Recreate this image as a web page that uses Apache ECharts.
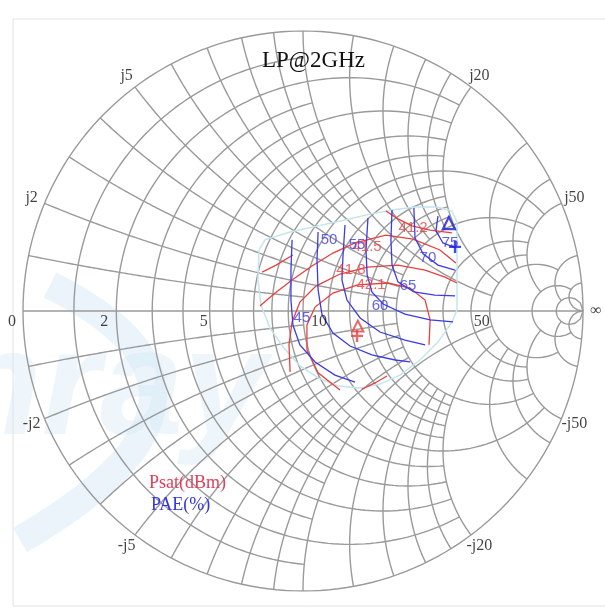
<!DOCTYPE html>
<html>
<head>
<meta charset="utf-8">
<title>LP@2GHz</title>
<script src="https://cdn.jsdelivr.net/npm/echarts@6.0.0/dist/echarts.min.js"></script>
<style>
html, body { margin: 0; padding: 0; background: #fff; }
#smith-main { width: 605px; height: 614px; }
</style>
</head>
<body>
<div id="smith-main"></div>
<script>
var smith_dom = document.getElementById("smith-main");
var smith_Chart = echarts.init(smith_dom);

var z0 = 10; // chart normalised to 10 ohm

// axis labels (ohm)
var r_labels = ["0", "2", "5", "10", "50", "∞"];
var r_label_values = [0, 2, 5, 10, 50, Infinity];
var x_label_values = [2, 5, 10, 20, 50];

// Psat contours (dBm), reflection coefficient [re, im]
var psat_levels = ["41.2", "41.5", "41.8", "42.1"];
var psat_412_a = [[0.296, 0.357], [0.339, 0.329], [0.389, 0.304], [0.454, 0.289], [0.532, 0.279]];
var psat_412_b = [[-0.146, 0.139], [-0.096, 0.164], [-0.036, 0.2]];
var psat_415 = [[-0.154, 0.018], [-0.104, 0.061], [-0.039, 0.111], [0.032, 0.161], [0.107, 0.207], [0.186, 0.243], [0.296, 0.271], [0.393, 0.257], [0.489, 0.218], [0.546, 0.171]];
var psat_418 = [[-0.046, -0.218], [-0.05, -0.121], [-0.039, -0.039], [-0.011, 0.032], [0.046, 0.089], [0.132, 0.132], [0.232, 0.157], [0.339, 0.164], [0.436, 0.146], [0.507, 0.121], [0.55, 0.1]];
var psat_421_a = [[0.132, -0.282], [0.054, -0.221], [0.014, -0.139], [0.014, -0.05], [0.043, 0.014], [0.107, 0.064], [0.196, 0.093], [0.304, 0.1], [0.382, 0.082], [0.436, 0.039], [0.454, -0.032], [0.45, -0.121]];
var psat_421_b = [[0.211, -0.279], [0.257, -0.257], [0.3, -0.232]];
var psat_label_pos = [[0.393, 0.296], [0.229, 0.229], [0.171, 0.146], [0.243, 0.093]];

// PAE contours (%)
var pae_levels = ["45", "50", "55", "60", "65", "70", "75"];
var pae_45 = [[-0.039, 0.254], [-0.043, 0.146], [-0.043, 0.039], [-0.036, -0.05], [-0.011, -0.121], [0.043, -0.182], [0.114, -0.229], [0.186, -0.254]];
var pae_50 = [[0.054, 0.282], [0.05, 0.182], [0.054, 0.075], [0.068, -0.014], [0.107, -0.079], [0.168, -0.125], [0.246, -0.157], [0.329, -0.175], [0.382, -0.182]];
var pae_55 = [[0.15, 0.307], [0.143, 0.2], [0.139, 0.111], [0.157, 0.039], [0.204, -0.025], [0.275, -0.075], [0.364, -0.104], [0.436, -0.121]];
var pae_60 = [[0.232, 0.332], [0.225, 0.218], [0.229, 0.129], [0.246, 0.068], [0.286, 0.025], [0.364, -0.011], [0.454, -0.032], [0.536, -0.039]];
var pae_65 = [[0.318, 0.361], [0.314, 0.254], [0.318, 0.164], [0.339, 0.104], [0.396, 0.068], [0.471, 0.057], [0.543, 0.054]];
var pae_70 = [[0.396, 0.368], [0.4, 0.261], [0.429, 0.204], [0.482, 0.164], [0.543, 0.146]];
var pae_75 = [[0.482, 0.339], [0.475, 0.286], [0.5, 0.243], [0.546, 0.225]];
var pae_label_pos = [[-0.004, -0.025], [0.093, 0.254], [0.193, 0.236], [0.275, 0.018], [0.375, 0.089], [0.446, 0.189], [0.525, 0.243]];

// measured load-pull area
var lp_region = [[-0.157, 0.218], [-0.136, 0.254], [-0.046, 0.282], [0.054, 0.304], [0.15, 0.325], [0.239, 0.346], [0.318, 0.361], [0.4, 0.371], [0.479, 0.371], [0.532, 0.357], [0.55, 0.318], [0.55, 0.004], [0.532, -0.039], [0.482, -0.111], [0.418, -0.175], [0.346, -0.229], [0.275, -0.261], [0.204, -0.275], [0.125, -0.268], [0.054, -0.239], [-0.011, -0.196], [-0.068, -0.132], [-0.118, -0.061], [-0.15, 0.021], [-0.161, 0.111], [-0.157, 0.218]];

// optimum points
var psat_max = [0.196, -0.054];
var psat_opt = [0.193, -0.089];
var pae_max = [0.521, 0.314];
var pae_opt = [0.543, 0.229];

// smith grid: [normalised value, limit of the other coordinate]
var r_grid = [[0, Infinity], [0.1, 1], [0.2, 2], [0.3, 1], [0.4, 2], [0.5, 1], [0.6, 2], [0.7, 1], [0.8, 2], [0.9, 1], [1, 5],
    [1.2, 2], [1.4, 2], [1.6, 2], [1.8, 2], [2, 5], [3, 5], [4, 5], [5, 10], [10, 20], [20, Infinity]];
var x_grid = [[0.1, 1], [0.2, 2], [0.3, 1], [0.4, 2], [0.5, 1], [0.6, 2], [0.7, 1], [0.8, 2], [0.9, 1], [1, 5],
    [1.2, 2], [1.4, 2], [1.6, 2], [1.8, 2], [2, 5], [3, 5], [4, 5], [5, 10], [10, 20], [20, Infinity]];

function gamma(r, x) {
    if (!isFinite(r) || !isFinite(x)) return [1, 0];
    var d = (r + 1) * (r + 1) + x * x;
    return [(r * r + x * x - 1) / d, 2 * x / d];
}

// resistance circle between -lim and +lim of reactance
function r_circle(r, lim) {
    var pts = [];
    var a = Math.atan(lim);
    for (var i = 0; i <= 200; i++) {
        var phi = -a + 2 * a * i / 200;
        pts.push(gamma(r, Math.tan(phi)));
    }
    return pts;
}

// reactance arc from r = 0 up to lim
function x_arc(x, lim) {
    var pts = [];
    var a = Math.atan(lim);
    for (var i = 0; i <= 150; i++) {
        pts.push(gamma(Math.tan(a * i / 150), x));
    }
    return pts;
}

var grid_data = [];
r_grid.forEach(function (g) {
    grid_data.push({coords: r_circle(g[0], g[1])});
});
x_grid.forEach(function (g) {
    grid_data.push({coords: x_arc(g[0], g[1])});
    grid_data.push({coords: x_arc(-g[0], g[1])});
});
grid_data.push({coords: [[-1, 0], [1, 0]]});

// tick labels
var tick_data = [];
var r_offsets = [[-11, 11], [-12, 11], [-6, 11], [16, 11], [-8, 11], [13, 0]];
for (var i = 0; i < r_labels.length; i++) {
    tick_data.push({
        value: gamma(r_label_values[i] / z0, 0), name: r_labels[i],
        label: {offset: r_offsets[i]}
    });
}
x_label_values.forEach(function (v) {
    [1, -1].forEach(function (s) {
        var g = gamma(0, s * v / z0);
        tick_data.push({value: [g[0] * 1.05, g[1] * 1.05], name: (s < 0 ? "-j" : "j") + v});
    });
});

var psat_lines = [psat_412_a, psat_412_b, psat_415, psat_418, psat_421_a, psat_421_b].map(function (c) {
    return {coords: c};
});
var pae_lines = [pae_45, pae_50, pae_55, pae_60, pae_65, pae_70, pae_75].map(function (c) {
    return {coords: c};
});
var psat_label_data = psat_levels.map(function (t, i) { return {value: psat_label_pos[i], name: t}; });
var pae_label_data = pae_levels.map(function (t, i) { return {value: pae_label_pos[i], name: t}; });

var red = "#e8403f";
var blue = "#3b3be6";
var plus_path = "path://M4,0H6V4H10V6H6V10H4V6H0V4H4Z";

function label_series(data, color, font, size, z) {
    return {
        type: 'scatter',
        data: data,
        symbolSize: 1,
        itemStyle: {color: 'rgba(0,0,0,0)'},
        silent: true,
        z: z,
        label: {
            show: true,
            position: 'inside',
            formatter: '{b}',
            color: color,
            fontFamily: font,
            fontSize: size
        }
    };
}

var smith_option = {
    animation: false,
    backgroundColor: '#fff',
    grid: {left: 23, top: 31, width: 560, height: 560},
    xAxis: {type: 'value', min: -1, max: 1, show: false},
    yAxis: {type: 'value', min: -1, max: 1, show: false},
    graphic: [
        {
            type: 'rect', z: 0, silent: true,
            shape: {x: 13, y: 19, width: 600, height: 587},
            style: {fill: 'none', stroke: '#e2e2e2', lineWidth: 1}
        },
        {
            type: 'bezierCurve', z: 0, silent: true,
            shape: {x1: 50, y1: 285, cpx1: 270, cpy1: 395, x2: 20, y2: 540},
            style: {fill: 'none', stroke: 'rgba(205,228,246,0.4)', lineWidth: 28}
        },
        {
            type: 'text', z: 0, silent: true, left: -50, top: 318,
            style: {text: 'nray', fill: 'rgba(205,228,246,0.35)', font: 'italic bold 150px "Liberation Sans"'}
        },
        {
            type: 'text', z: 100, left: 262, top: 49,
            style: {text: 'LP@2GHz', fill: '#111', font: '23px "Liberation Serif"'}
        },
        {
            type: 'text', z: 100, left: 149, top: 474,
            style: {text: 'Psat(dBm)', fill: '#e0405a', font: '18px "Liberation Serif"'}
        },
        {
            type: 'text', z: 100, left: 151, top: 496,
            style: {text: 'PAE(%)', fill: '#3535e0', font: '18px "Liberation Serif"'}
        }
    ],
    series: [
        {
            type: 'lines', coordinateSystem: 'cartesian2d', polyline: true, silent: true, z: 2,
            data: grid_data,
            lineStyle: {color: '#9a9a9a', width: 1.4, opacity: 1}
        },
        {
            type: 'lines', coordinateSystem: 'cartesian2d', polyline: true, silent: true, z: 3,
            data: [{coords: lp_region}],
            lineStyle: {color: '#c4e4ee', width: 1.5, opacity: 1}
        },
        {
            name: 'Psat(dBm)', type: 'lines', coordinateSystem: 'cartesian2d', polyline: true, silent: true, z: 4,
            data: psat_lines,
            lineStyle: {color: red, width: 1.3, opacity: 1}
        },
        {
            name: 'PAE(%)', type: 'lines', coordinateSystem: 'cartesian2d', polyline: true, silent: true, z: 5,
            data: pae_lines,
            lineStyle: {color: blue, width: 1.3, opacity: 1}
        },
        label_series(tick_data, '#111', 'Liberation Serif', 16, 6),
        label_series(psat_label_data, red, 'Liberation Sans', 15, 7),
        label_series(pae_label_data, blue, 'Liberation Sans', 15, 7),
        {
            type: 'scatter', z: 8, silent: true,
            data: [psat_max], symbol: 'triangle', symbolSize: 11,
            itemStyle: {color: 'rgba(0,0,0,0)', borderColor: red, borderWidth: 2}
        },
        {
            type: 'scatter', z: 8, silent: true,
            data: [psat_opt], symbol: plus_path, symbolSize: 12,
            itemStyle: {color: red}
        },
        {
            type: 'scatter', z: 8, silent: true,
            data: [pae_max], symbol: 'triangle', symbolSize: 12,
            itemStyle: {color: 'rgba(0,0,0,0)', borderColor: '#1a1ae0', borderWidth: 2.2}
        },
        {
            type: 'scatter', z: 8, silent: true,
            data: [pae_opt], symbol: plus_path, symbolSize: 12,
            itemStyle: {color: '#1a1ae0'}
        }
    ]
};

smith_Chart.setOption(smith_option);
</script>
</body>
</html>
